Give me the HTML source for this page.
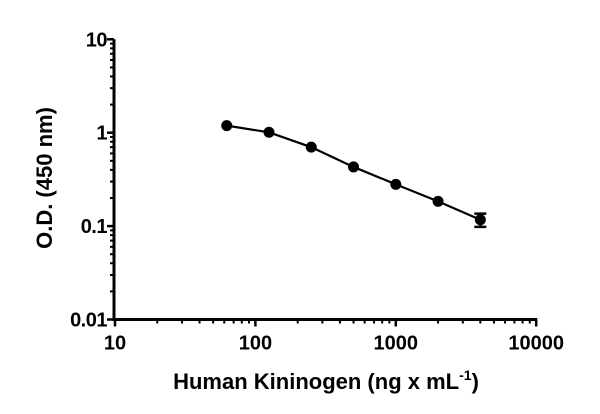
<!DOCTYPE html>
<html><head><meta charset="utf-8"><style>
body{margin:0;background:#fff;}
svg{display:block;font-family:"Liberation Sans",Arial,sans-serif;font-weight:bold;}
</style></head><body>
<svg id="chart" width="600" height="414" viewBox="0 0 600 414" xmlns="http://www.w3.org/2000/svg">
<g id="axes"></g>
<g id="series"></g>
<text transform="translate(52,178) rotate(-90)" text-anchor="middle" font-size="22">O.D. (450 nm)</text>
<text x="326" y="389" text-anchor="middle" font-size="22">Human Kininogen (ng x mL<tspan font-size="14" dy="-9">-1</tspan><tspan dy="9">)</tspan></text>
</svg>
<script>
const xValues=[62.5,125,250,500,1000,2000,4000];
const yValues=[1.19,1.01,0.70,0.43,0.28,0.184,0.117];
const yErr=[0,0,0,0,0,0,0.019];
const xTicks=[10,100,1000,10000];
const xTickLabels=["10","100","1000","10000"];
const yTicks=[0.01,0.1,1,10];
const yTickLabels=["0.01","0.1","1","10"];
const NS="http://www.w3.org/2000/svg";
const X0=115,XD=140.4,Y0=319.5,YD=93.4,AX=114;
function xs(v){return X0+XD*Math.log10(v/10);}
function ys(v){return Y0-YD*Math.log10(v/0.01);}
function mk(t,a,p){const e=document.createElementNS(NS,t);for(const k in a)e.setAttribute(k,a[k]);p.appendChild(e);return e;}
const ax=document.getElementById('axes');
let l=mk('line',{x1:AX,y1:ys(10),x2:AX,y2:Y0+1.5,stroke:'#000','stroke-width':3},ax);

l=mk('line',{x1:AX-1.5,y1:Y0,x2:xs(10000)+1,y2:Y0,stroke:'#000','stroke-width':3},ax);

yTicks.forEach((v,i)=>{
 const y=ys(v);
 const t=mk('line',{x1:AX-7,y1:y,x2:AX,y2:y,stroke:'#000','stroke-width':2.5},ax);
 
 const tx=mk('text',{x:AX-7,y:y+7,'text-anchor':'end','font-size':20,'letter-spacing':-0.5},ax);tx.textContent=yTickLabels[i];
 
 if(i<yTicks.length-1)for(let m=2;m<10;m++){const yy=ys(v*m);
  const mt=mk('line',{x1:AX-4,y1:yy,x2:AX,y2:yy,stroke:'#000','stroke-width':2},ax);
  }
});
xTicks.forEach((v,i)=>{
 const x=xs(v);
 const t=mk('line',{x1:x,y1:Y0,x2:x,y2:Y0+7,stroke:'#000','stroke-width':2.5},ax);
 
 const tx=mk('text',{x:x,y:Y0+30,'text-anchor':'middle','font-size':20},ax);tx.textContent=xTickLabels[i];
 
 if(i<xTicks.length-1)for(let m=2;m<10;m++){const xx=xs(v*m);
  const mt=mk('line',{x1:xx,y1:Y0,x2:xx,y2:Y0+4,stroke:'#000','stroke-width':2},ax);
  }
});
const se=document.getElementById('series');
const pl=mk('polyline',{points:xValues.map((x,i)=>xs(x)+','+ys(yValues[i])).join(' '),fill:'none',stroke:'#000','stroke-width':2.2},se);

xValues.forEach((x,i)=>{
 const cx=xs(x),cy=ys(yValues[i]);
 if(yErr[i]>0){const t=ys(yValues[i]+yErr[i]),b=ys(yValues[i]-yErr[i]);
  const g=mk('path',{d:`M${cx},${t}V${b}M${cx-6},${t}H${cx+6}M${cx-6},${b}H${cx+6}`,stroke:'#000','stroke-width':2.5,fill:'none'},se);
  }
 const c=mk('circle',{cx:cx,cy:cy,r:5.5,fill:'#000'},se);
 
});
</script>
</body></html>
